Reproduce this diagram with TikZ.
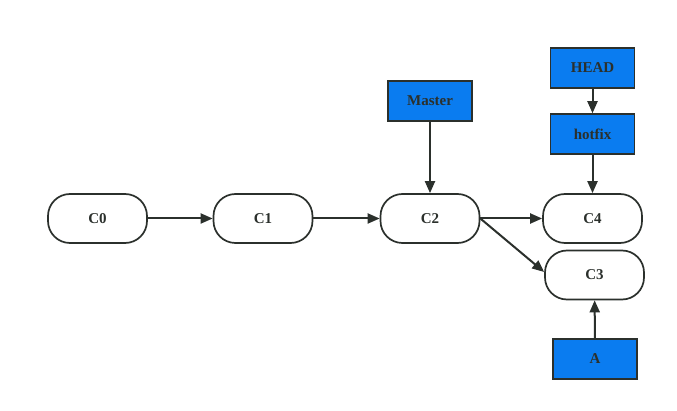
\documentclass[tikz,border=0pt]{standalone}
\usepackage{fontspec}
\setmainfont{Liberation Serif}
\usetikzlibrary{calc,positioning,arrows.meta}

\definecolor{refblue}{HTML}{0A7CF0}
\definecolor{refline}{HTML}{2B302C}

\begin{document}
\begin{tikzpicture}[x=1pt,y=-1pt,
  every node/.style={align=center,font=\fontsize{15}{17}\selectfont\bfseries,text=refline},
  commit/.style={draw=refline,line width=1.7pt,rounded corners=22pt,minimum width=99pt,minimum height=49pt,fill=white},
  branch/.style={draw=refline,line width=1.5pt,fill=refblue,minimum width=84pt,minimum height=40pt},
  link/.style={draw=refline,line width=2pt,-{Triangle[length=12pt,width=10pt]}}]
\useasboundingbox (0,0) rectangle (677,411);
\node [commit] (CommitC0) at (97.5,218.5) {C0};
\node [commit] (CommitC1) at (263,218.5) {C1};
\node [commit] (CommitC2) at (430,218.5) {C2};
\node [commit] (CommitC4) at (592.5,218.5) {C4};
\node [commit] (CommitC3) at (594.5,275) {C3};
\node [branch] (BranchMaster) at (430,101) {Master};
\node [branch] (BranchHead) at (592.5,68) {HEAD};
\node [branch] (BranchHotfix) at (592.5,134) {hotfix};
\node [branch] (BranchA) at (595,359) {A};
\draw [link] (CommitC0) -- (CommitC1);
\draw [link] (CommitC1) -- (CommitC2);
\draw [link] (BranchMaster) -- (CommitC2);
\draw [link] (BranchHead) -- (BranchHotfix);
\draw [link] (BranchHotfix) -- (CommitC4);
\draw [link] (CommitC2.east) -- (CommitC4);
\draw [link] (CommitC2.east) -- ($(CommitC3.west)+(0,-3)$);
\draw [link] (BranchA) -- (CommitC3);
\end{tikzpicture}
\end{document}
